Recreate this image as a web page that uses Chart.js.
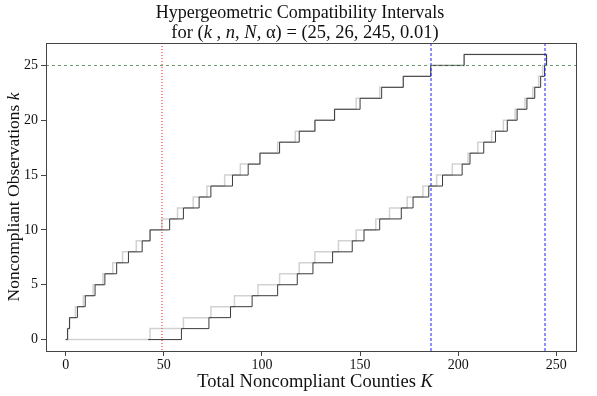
<!DOCTYPE html>
<html>
<head>
<meta charset="utf-8">
<script src="https://cdn.jsdelivr.net/npm/chart.js@4.4.1/dist/chart.umd.min.js"></script>
<style>
  html, body { margin: 0; padding: 0; background: #fff; }
  #wrap { width: 597px; height: 396px; }
</style>
</head>
<body>
<div id="wrap"><canvas id="hgChart" width="597" height="396"></canvas></div>
<script>
// K where each bound steps up to the next k
const upperBlackK = [0, 1, 2, 6, 10, 15, 20, 26, 32, 39, 43, 53, 60, 68, 74, 85, 93, 99, 109, 119, 127, 137, 150, 161, 172, 186, 203, 245];
const upperBlackk = [0, 1, 2, 3, 4, 5, 6, 7, 8, 9, 10, 11, 12, 13, 14, 15, 16, 17, 18, 19, 20, 21, 22, 23, 24, 25, 26, 26];
const upperGrayK = [0, 1, 2, 5, 9, 14, 19, 24, 29, 36, 43, 49, 57, 65, 72, 81, 89, 99, 108, 117, 127, 137, 148, 160, 172, 186, 203, 245];
const upperGrayk = [0, 1, 2, 3, 4, 5, 6, 7, 8, 9, 10, 11, 12, 13, 14, 15, 16, 17, 18, 19, 20, 21, 22, 23, 24, 25, 26, 26];
const lowerBlackK = [42, 59, 73, 84, 95, 108, 118, 126, 136, 146, 152, 160, 171, 177, 185, 192, 202, 206, 213, 219, 225, 230, 235, 239, 242, 244, 245];
const lowerBlackk = [0, 1, 2, 3, 4, 5, 6, 7, 8, 9, 10, 11, 12, 13, 14, 15, 16, 17, 18, 19, 20, 21, 22, 23, 24, 25, 26];
const lowerGrayK = [1, 43, 60, 74, 86, 98, 109, 119, 127, 139, 148, 158, 165, 174, 182, 189, 197, 205, 210, 217, 223, 229, 234, 238, 241, 243, 245];
const lowerGrayk = [0, 1, 2, 3, 4, 5, 6, 7, 8, 9, 10, 11, 12, 13, 14, 15, 16, 17, 18, 19, 20, 21, 22, 23, 24, 25, 26];

const observedk = 25;
const pointK = 49;
const intervalK = [186, 244];

const xTicks = [0, 50, 100, 150, 200, 250];
const yTicks = [0, 5, 10, 15, 20, 25];

const serif = "'Liberation Serif', 'DejaVu Serif', serif";

function toPoints(xs, ys) {
    return xs.map((x, i) => ({ x: x, y: ys[i] }));
}

// draws a line of text made of [text, italic] parts, centred on cx
function drawParts(ctx, parts, cx, y, size) {
    let total = 0;
    parts.forEach(p => {
        ctx.font = (p[1] ? 'italic ' : '') + size + 'px ' + serif;
        total += ctx.measureText(p[0]).width;
    });
    let x = cx - total / 2;
    parts.forEach(p => {
        ctx.font = (p[1] ? 'italic ' : '') + size + 'px ' + serif;
        ctx.fillText(p[0], x, y);
        x += ctx.measureText(p[0]).width;
    });
}

const framePlugin = {
    id: 'frame',
    afterDatasetsDraw: (chart) => {
        const { ctx, chartArea, scales } = chart;
        ctx.save();
        ctx.lineWidth = 1;

        // horizontal line at the observed k
        ctx.setLineDash([3, 3]);
        ctx.strokeStyle = '#6a9f6a';
        let y = Math.round(scales.y.getPixelForValue(observedk)) + 0.5;
        ctx.beginPath();
        ctx.moveTo(chartArea.left, y);
        ctx.lineTo(chartArea.right, y);
        ctx.stroke();

        // point estimate
        ctx.setLineDash([1, 2]);
        ctx.strokeStyle = '#ff2020';
        let x = Math.round(scales.x.getPixelForValue(pointK));
        ctx.beginPath();
        ctx.moveTo(x, chartArea.top);
        ctx.lineTo(x, chartArea.bottom);
        ctx.stroke();

        // interval ends
        ctx.setLineDash([3, 2]);
        ctx.strokeStyle = '#1f1fff';
        intervalK.forEach(v => {
            const px = Math.round(scales.x.getPixelForValue(v));
            ctx.beginPath();
            ctx.moveTo(px, chartArea.top);
            ctx.lineTo(px, chartArea.bottom);
            ctx.stroke();
        });

        ctx.setLineDash([]);
        ctx.strokeStyle = '#444';
        ctx.strokeRect(chartArea.left + 0.5, chartArea.top + 0.5,
            chartArea.right - chartArea.left, chartArea.bottom - chartArea.top);
        ctx.restore();
    },
    afterDraw: (chart) => {
        const { ctx, chartArea } = chart;
        const cx = (chartArea.left + chartArea.right) / 2;
        ctx.save();
        ctx.fillStyle = '#111';
        ctx.textBaseline = 'middle';
        drawParts(ctx, [['Hypergeometric Compatibility Intervals', false]], 300, 13, 18);
        drawParts(ctx, [['for (', false], ['k', true], [' , ', false], ['n', true], [', ', false],
            ['N', true], [', \u03b1) = (25, 26, 245, 0.01)', false]], 305, 33, 18.5);
        drawParts(ctx, [['Total Noncompliant Counties ', false], ['K', true]], cx + 4, 382, 18.5);
        ctx.translate(14, (chartArea.top + chartArea.bottom) / 2);
        ctx.rotate(-Math.PI / 2);
        drawParts(ctx, [['Noncompliant Observations ', false], ['k', true]], 0, 0, 17.5);
        ctx.restore();
    }
};

const ctx = document.getElementById('hgChart').getContext('2d');

new Chart(ctx, {
    type: 'line',
    data: {
        datasets: [{
            label: 'upper gray',
            data: toPoints(upperGrayK, upperGrayk),
            borderColor: '#d2d2d2',
            borderWidth: 1.5,
            stepped: true,
            pointRadius: 0,
            fill: false,
            order: 2
        },
        {
            label: 'lower gray',
            data: toPoints(lowerGrayK, lowerGrayk),
            borderColor: '#d2d2d2',
            borderWidth: 1.5,
            stepped: true,
            pointRadius: 0,
            fill: false,
            order: 2
        },
        {
            label: 'upper',
            data: toPoints(upperBlackK, upperBlackk),
            borderColor: '#3a3a3a',
            borderWidth: 1,
            stepped: true,
            pointRadius: 0,
            fill: false,
            order: 1
        },
        {
            label: 'lower',
            data: toPoints(lowerBlackK, lowerBlackk),
            borderColor: '#3a3a3a',
            borderWidth: 1,
            stepped: true,
            pointRadius: 0,
            fill: false,
            order: 1
        }]
    },
    options: {
        responsive: false,
        animation: false,
        layout: {
            padding: { left: 0, top: 43, right: 21, bottom: 0 }
        },
        scales: {
            x: {
                type: 'linear',
                min: -10,
                max: 260,
                afterBuildTicks: (scale) => {
                    scale.ticks = xTicks.map(v => ({ value: v }));
                },
                afterFit: (scale) => {
                    scale.height = 45;
                },
                border: { display: true, color: '#444' },
                grid: {
                    drawOnChartArea: false,
                    drawTicks: true,
                    tickLength: 5,
                    color: '#444'
                },
                ticks: {
                    color: '#111',
                    padding: 1,
                    maxRotation: 0,
                    font: { family: serif, size: 14 }
                }
            },
            y: {
                type: 'linear',
                min: -1.04,
                max: 27.04,
                afterBuildTicks: (scale) => {
                    scale.ticks = yTicks.map(v => ({ value: v }));
                },
                afterFit: (scale) => {
                    scale.width = 46;
                },
                border: { display: true, color: '#444' },
                grid: {
                    drawOnChartArea: false,
                    drawTicks: true,
                    tickLength: 5,
                    color: '#444'
                },
                ticks: {
                    color: '#111',
                    padding: 3,
                    font: { family: serif, size: 14 }
                }
            }
        },
        plugins: {
            legend: { display: false },
            tooltip: { enabled: false }
        }
    },
    plugins: [framePlugin]
});
</script>
</body>
</html>
